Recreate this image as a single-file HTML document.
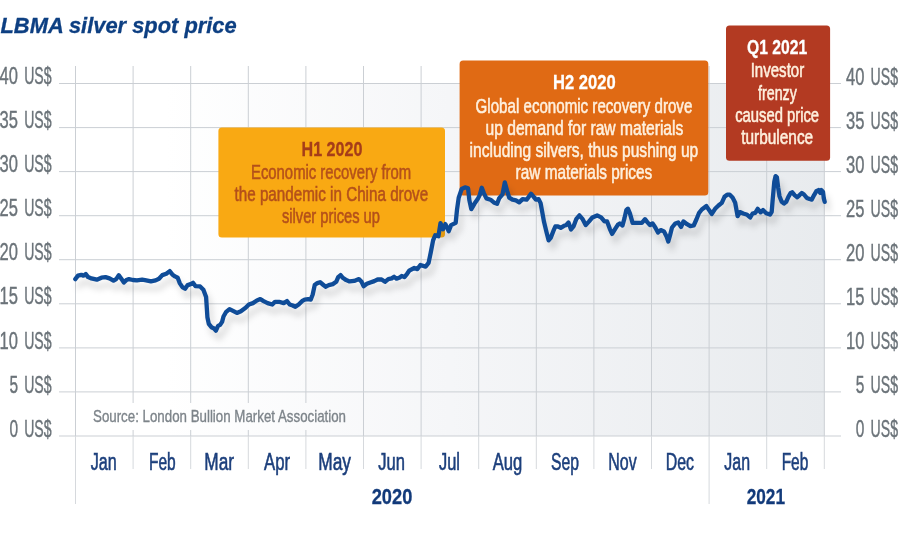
<!DOCTYPE html>
<html lang="en"><head><meta charset="utf-8"><title>LBMA silver spot price</title>
<style>html,body{margin:0;padding:0;background:#fff}body{width:900px;height:538px;overflow:hidden}svg{display:block}text{font-family:"Liberation Sans",sans-serif}</style></head><body>
<svg width="900" height="538" viewBox="0 0 900 538">
<defs><linearGradient id="bg" gradientUnits="userSpaceOnUse" x1="75.5" y1="0" x2="824.3" y2="0"><stop offset="0" stop-color="#ffffff"/><stop offset="0.12" stop-color="#ffffff"/><stop offset="0.5" stop-color="#f5f6f8"/><stop offset="1" stop-color="#e8ebee"/></linearGradient>
<filter id="sh" x="-5%" y="-30%" width="110%" height="170%"><feGaussianBlur stdDeviation="3"/></filter>
</defs>
<rect width="900" height="538" fill="#fff"/>
<rect x="75.5" y="83.5" width="748.8" height="352.5" fill="url(#bg)"/>
<g stroke="#cbcfd4" stroke-width="1" fill="none">
<line x1="59" y1="83.5" x2="841" y2="83.5"/>
<line x1="59" y1="127.6" x2="841" y2="127.6"/>
<line x1="59" y1="171.6" x2="841" y2="171.6"/>
<line x1="59" y1="215.7" x2="841" y2="215.7"/>
<line x1="59" y1="259.7" x2="841" y2="259.7"/>
<line x1="59" y1="303.8" x2="841" y2="303.8"/>
<line x1="59" y1="347.9" x2="841" y2="347.9"/>
<line x1="59" y1="391.9" x2="841" y2="391.9"/>
<line x1="59" y1="436.0" x2="841" y2="436.0"/>
<line x1="75.5" y1="66" x2="75.5" y2="436.0"/>
<line x1="133.1" y1="66" x2="133.1" y2="436.0"/>
<line x1="190.7" y1="66" x2="190.7" y2="436.0"/>
<line x1="248.3" y1="66" x2="248.3" y2="436.0"/>
<line x1="305.9" y1="66" x2="305.9" y2="436.0"/>
<line x1="363.5" y1="66" x2="363.5" y2="436.0"/>
<line x1="421.1" y1="66" x2="421.1" y2="436.0"/>
<line x1="478.7" y1="66" x2="478.7" y2="436.0"/>
<line x1="536.3" y1="66" x2="536.3" y2="436.0"/>
<line x1="593.9" y1="66" x2="593.9" y2="436.0"/>
<line x1="651.5" y1="66" x2="651.5" y2="436.0"/>
<line x1="709.1" y1="66" x2="709.1" y2="436.0"/>
<line x1="766.7" y1="66" x2="766.7" y2="436.0"/>
<line x1="824.3" y1="66" x2="824.3" y2="436.0"/>
</g><g stroke="#d6d9dd" stroke-width="1" fill="none">
<line x1="75.5" y1="436.0" x2="75.5" y2="504"/>
<line x1="133.1" y1="436.0" x2="133.1" y2="469"/>
<line x1="190.7" y1="436.0" x2="190.7" y2="469"/>
<line x1="248.3" y1="436.0" x2="248.3" y2="469"/>
<line x1="305.9" y1="436.0" x2="305.9" y2="469"/>
<line x1="363.5" y1="436.0" x2="363.5" y2="469"/>
<line x1="421.1" y1="436.0" x2="421.1" y2="469"/>
<line x1="478.7" y1="436.0" x2="478.7" y2="469"/>
<line x1="536.3" y1="436.0" x2="536.3" y2="469"/>
<line x1="593.9" y1="436.0" x2="593.9" y2="469"/>
<line x1="651.5" y1="436.0" x2="651.5" y2="469"/>
<line x1="709.1" y1="436.0" x2="709.1" y2="504"/>
<line x1="766.7" y1="436.0" x2="766.7" y2="469"/>
<line x1="824.3" y1="436.0" x2="824.3" y2="469"/>
</g>
<rect x="88" y="403" width="263" height="27" fill="url(#bg)"/>
<text x="0.5" y="33.3" font-size="22" fill="#0d3f82" stroke="#0d3f82" stroke-width="0.3" font-weight="bold" font-style="italic" textLength="236.2" lengthAdjust="spacingAndGlyphs">LBMA silver spot price</text>
<text y="84.1" font-size="23" fill="#6b7379" stroke="#6b7379" stroke-width="0.4"><tspan x="-0.4" textLength="18.4" lengthAdjust="spacingAndGlyphs">40</tspan> <tspan x="24.2" textLength="27.4" lengthAdjust="spacingAndGlyphs">US$</tspan></text>
<text y="84.7" font-size="23" fill="#6b7379" stroke="#6b7379" stroke-width="0.4"><tspan x="846.0" textLength="18.4" lengthAdjust="spacingAndGlyphs">40</tspan> <tspan x="870.6" textLength="27.4" lengthAdjust="spacingAndGlyphs">US$</tspan></text>
<text y="128.2" font-size="23" fill="#6b7379" stroke="#6b7379" stroke-width="0.4"><tspan x="-0.4" textLength="18.4" lengthAdjust="spacingAndGlyphs">35</tspan> <tspan x="24.2" textLength="27.4" lengthAdjust="spacingAndGlyphs">US$</tspan></text>
<text y="128.8" font-size="23" fill="#6b7379" stroke="#6b7379" stroke-width="0.4"><tspan x="846.0" textLength="18.4" lengthAdjust="spacingAndGlyphs">35</tspan> <tspan x="870.6" textLength="27.4" lengthAdjust="spacingAndGlyphs">US$</tspan></text>
<text y="172.2" font-size="23" fill="#6b7379" stroke="#6b7379" stroke-width="0.4"><tspan x="-0.4" textLength="18.4" lengthAdjust="spacingAndGlyphs">30</tspan> <tspan x="24.2" textLength="27.4" lengthAdjust="spacingAndGlyphs">US$</tspan></text>
<text y="172.8" font-size="23" fill="#6b7379" stroke="#6b7379" stroke-width="0.4"><tspan x="846.0" textLength="18.4" lengthAdjust="spacingAndGlyphs">30</tspan> <tspan x="870.6" textLength="27.4" lengthAdjust="spacingAndGlyphs">US$</tspan></text>
<text y="216.3" font-size="23" fill="#6b7379" stroke="#6b7379" stroke-width="0.4"><tspan x="-0.4" textLength="18.4" lengthAdjust="spacingAndGlyphs">25</tspan> <tspan x="24.2" textLength="27.4" lengthAdjust="spacingAndGlyphs">US$</tspan></text>
<text y="216.9" font-size="23" fill="#6b7379" stroke="#6b7379" stroke-width="0.4"><tspan x="846.0" textLength="18.4" lengthAdjust="spacingAndGlyphs">25</tspan> <tspan x="870.6" textLength="27.4" lengthAdjust="spacingAndGlyphs">US$</tspan></text>
<text y="260.3" font-size="23" fill="#6b7379" stroke="#6b7379" stroke-width="0.4"><tspan x="-0.4" textLength="18.4" lengthAdjust="spacingAndGlyphs">20</tspan> <tspan x="24.2" textLength="27.4" lengthAdjust="spacingAndGlyphs">US$</tspan></text>
<text y="260.9" font-size="23" fill="#6b7379" stroke="#6b7379" stroke-width="0.4"><tspan x="846.0" textLength="18.4" lengthAdjust="spacingAndGlyphs">20</tspan> <tspan x="870.6" textLength="27.4" lengthAdjust="spacingAndGlyphs">US$</tspan></text>
<text y="304.4" font-size="23" fill="#6b7379" stroke="#6b7379" stroke-width="0.4"><tspan x="-0.4" textLength="18.4" lengthAdjust="spacingAndGlyphs">15</tspan> <tspan x="24.2" textLength="27.4" lengthAdjust="spacingAndGlyphs">US$</tspan></text>
<text y="305.0" font-size="23" fill="#6b7379" stroke="#6b7379" stroke-width="0.4"><tspan x="846.0" textLength="18.4" lengthAdjust="spacingAndGlyphs">15</tspan> <tspan x="870.6" textLength="27.4" lengthAdjust="spacingAndGlyphs">US$</tspan></text>
<text y="348.5" font-size="23" fill="#6b7379" stroke="#6b7379" stroke-width="0.4"><tspan x="-0.4" textLength="18.4" lengthAdjust="spacingAndGlyphs">10</tspan> <tspan x="24.2" textLength="27.4" lengthAdjust="spacingAndGlyphs">US$</tspan></text>
<text y="349.1" font-size="23" fill="#6b7379" stroke="#6b7379" stroke-width="0.4"><tspan x="846.0" textLength="18.4" lengthAdjust="spacingAndGlyphs">10</tspan> <tspan x="870.6" textLength="27.4" lengthAdjust="spacingAndGlyphs">US$</tspan></text>
<text y="392.5" font-size="23" fill="#6b7379" stroke="#6b7379" stroke-width="0.4"><tspan x="9.4" textLength="8.6" lengthAdjust="spacingAndGlyphs">5</tspan> <tspan x="24.2" textLength="27.4" lengthAdjust="spacingAndGlyphs">US$</tspan></text>
<text y="393.1" font-size="23" fill="#6b7379" stroke="#6b7379" stroke-width="0.4"><tspan x="855.8" textLength="8.6" lengthAdjust="spacingAndGlyphs">5</tspan> <tspan x="870.6" textLength="27.4" lengthAdjust="spacingAndGlyphs">US$</tspan></text>
<text y="436.6" font-size="23" fill="#6b7379" stroke="#6b7379" stroke-width="0.4"><tspan x="9.4" textLength="8.6" lengthAdjust="spacingAndGlyphs">0</tspan> <tspan x="24.2" textLength="27.4" lengthAdjust="spacingAndGlyphs">US$</tspan></text>
<text y="437.2" font-size="23" fill="#6b7379" stroke="#6b7379" stroke-width="0.4"><tspan x="855.8" textLength="8.6" lengthAdjust="spacingAndGlyphs">0</tspan> <tspan x="870.6" textLength="27.4" lengthAdjust="spacingAndGlyphs">US$</tspan></text>
<text x="93.0" y="421.5" font-size="16.6" fill="#7d848a" stroke="#7d848a" stroke-width="0.35" textLength="253.0" lengthAdjust="spacingAndGlyphs">Source: London Bullion Market Association</text>
<text x="90.7" y="469.8" font-size="23" fill="#1c3f7c" stroke="#1c3f7c" stroke-width="0.58" textLength="26.0" lengthAdjust="spacingAndGlyphs">Jan</text>
<text x="149.0" y="469.8" font-size="23" fill="#1c3f7c" stroke="#1c3f7c" stroke-width="0.58" textLength="26.7" lengthAdjust="spacingAndGlyphs">Feb</text>
<text x="204.3" y="469.8" font-size="23" fill="#1c3f7c" stroke="#1c3f7c" stroke-width="0.58" textLength="29.7" lengthAdjust="spacingAndGlyphs">Mar</text>
<text x="264.0" y="469.8" font-size="23" fill="#1c3f7c" stroke="#1c3f7c" stroke-width="0.58" textLength="26.0" lengthAdjust="spacingAndGlyphs">Apr</text>
<text x="318.3" y="469.8" font-size="23" fill="#1c3f7c" stroke="#1c3f7c" stroke-width="0.58" textLength="32.7" lengthAdjust="spacingAndGlyphs">May</text>
<text x="378.3" y="469.8" font-size="23" fill="#1c3f7c" stroke="#1c3f7c" stroke-width="0.58" textLength="26.7" lengthAdjust="spacingAndGlyphs">Jun</text>
<text x="439.0" y="469.8" font-size="23" fill="#1c3f7c" stroke="#1c3f7c" stroke-width="0.58" textLength="21.0" lengthAdjust="spacingAndGlyphs">Jul</text>
<text x="492.7" y="469.8" font-size="23" fill="#1c3f7c" stroke="#1c3f7c" stroke-width="0.58" textLength="29.6" lengthAdjust="spacingAndGlyphs">Aug</text>
<text x="551.0" y="469.8" font-size="23" fill="#1c3f7c" stroke="#1c3f7c" stroke-width="0.58" textLength="28.0" lengthAdjust="spacingAndGlyphs">Sep</text>
<text x="608.3" y="469.8" font-size="23" fill="#1c3f7c" stroke="#1c3f7c" stroke-width="0.58" textLength="28.4" lengthAdjust="spacingAndGlyphs">Nov</text>
<text x="665.7" y="469.8" font-size="23" fill="#1c3f7c" stroke="#1c3f7c" stroke-width="0.58" textLength="28.3" lengthAdjust="spacingAndGlyphs">Dec</text>
<text x="724.3" y="469.8" font-size="23" fill="#1c3f7c" stroke="#1c3f7c" stroke-width="0.58" textLength="25.7" lengthAdjust="spacingAndGlyphs">Jan</text>
<text x="781.7" y="469.8" font-size="23" fill="#1c3f7c" stroke="#1c3f7c" stroke-width="0.58" textLength="26.6" lengthAdjust="spacingAndGlyphs">Feb</text>
<text x="371.7" y="503.5" font-size="22.6" fill="#123a7a" stroke="#123a7a" stroke-width="0.3" font-weight="bold" textLength="40.6" lengthAdjust="spacingAndGlyphs">2020</text>
<text x="746.7" y="503.5" font-size="22.6" fill="#123a7a" stroke="#123a7a" stroke-width="0.3" font-weight="bold" textLength="38.3" lengthAdjust="spacingAndGlyphs">2021</text>
<!--LINE-->
<rect x="218.4" y="127.5" width="226.6" height="110.1" rx="3.5" fill="#f9a913"/>
<rect x="459.6" y="60.5" width="248.7" height="134.9" rx="3.5" fill="#e06a14"/>
<rect x="726" y="25.4" width="104.1" height="135.4" rx="3.5" fill="#b33a22"/>
<text x="301.5" y="156.4" font-size="20.2" fill="#a53d1a" stroke="#a53d1a" stroke-width="0.3" font-weight="bold" textLength="60.9" lengthAdjust="spacingAndGlyphs">H1 2020</text>
<text x="251.0" y="178.8" font-size="20.2" fill="#b4501a" stroke="#b4501a" stroke-width="0.58" textLength="160.2" lengthAdjust="spacingAndGlyphs">Economic recovery from</text>
<text x="234.5" y="201.1" font-size="20.2" fill="#b4501a" stroke="#b4501a" stroke-width="0.58" textLength="193.7" lengthAdjust="spacingAndGlyphs">the pandemic in China drove</text>
<text x="281.9" y="223.3" font-size="20.2" fill="#b4501a" stroke="#b4501a" stroke-width="0.58" textLength="98.1" lengthAdjust="spacingAndGlyphs">silver prices up</text>
<text x="553.0" y="89.3" font-size="20.2" fill="#ffffff" stroke="#ffffff" stroke-width="0.3" font-weight="bold" textLength="62.6" lengthAdjust="spacingAndGlyphs">H2 2020</text>
<text x="475.6" y="112.7" font-size="20.2" fill="#fef0de" stroke="#fef0de" stroke-width="0.58" textLength="216.7" lengthAdjust="spacingAndGlyphs">Global economic recovery drove</text>
<text x="485.5" y="134.9" font-size="20.2" fill="#fef0de" stroke="#fef0de" stroke-width="0.58" textLength="197.8" lengthAdjust="spacingAndGlyphs">up demand for raw materials</text>
<text x="469.6" y="157.2" font-size="20.2" fill="#fef0de" stroke="#fef0de" stroke-width="0.58" textLength="228.7" lengthAdjust="spacingAndGlyphs">including silvers, thus pushing up</text>
<text x="515.6" y="179.4" font-size="20.2" fill="#fef0de" stroke="#fef0de" stroke-width="0.58" textLength="136.7" lengthAdjust="spacingAndGlyphs">raw materials prices</text>
<text x="747.1" y="54.1" font-size="20.2" fill="#ffffff" stroke="#ffffff" stroke-width="0.3" font-weight="bold" textLength="60.1" lengthAdjust="spacingAndGlyphs">Q1 2021</text>
<text x="750.7" y="77.3" font-size="20.2" fill="#fef0de" stroke="#fef0de" stroke-width="0.58" textLength="53.5" lengthAdjust="spacingAndGlyphs">Investor</text>
<text x="758.1" y="99.6" font-size="20.2" fill="#fef0de" stroke="#fef0de" stroke-width="0.58" textLength="38.7" lengthAdjust="spacingAndGlyphs">frenzy</text>
<text x="735.2" y="121.9" font-size="20.2" fill="#fef0de" stroke="#fef0de" stroke-width="0.58" textLength="83.9" lengthAdjust="spacingAndGlyphs">caused price</text>
<text x="741.2" y="143.9" font-size="20.2" fill="#fef0de" stroke="#fef0de" stroke-width="0.58" textLength="72.0" lengthAdjust="spacingAndGlyphs">turbulence</text>
<path d="M75.3 279.1 L78.0 275.7 L81.4 274.8 L83.4 275.7 L85.8 274.1 L88.1 277.1 L91.4 278.4 L96.8 279.7 L101.4 277.7 L105.5 277.1 L109.5 278.4 L113.5 280.7 L116.2 279.1 L118.8 275.3 L121.5 279.1 L123.9 282.4 L126.9 279.7 L128.9 279.1 L132.9 280.0 L136.9 280.4 L142.2 279.7 L146.3 280.4 L150.9 281.4 L155.6 280.4 L159.0 278.8 L162.3 275.1 L166.3 273.7 L169.7 271.1 L172.3 274.4 L175.0 276.4 L177.7 277.7 L179.7 283.1 L182.4 287.1 L185.1 288.8 L187.7 285.1 L190.7 284.1 L193.0 282.8 L195.4 286.1 L200.1 286.4 L203.4 289.7 L206.1 297.1 L206.8 307.8 L207.4 317.2 L208.8 323.9 L211.4 327.2 L214.1 328.5 L215.9 330.6 L218.1 325.9 L220.1 324.9 L222.1 321.9 L223.5 316.5 L226.2 311.8 L229.5 309.1 L233.5 311.2 L236.9 312.9 L240.9 311.2 L245.6 307.8 L248.9 304.5 L252.9 303.1 L256.9 300.5 L260.3 299.1 L263.6 301.1 L267.6 303.1 L272.3 304.5 L275.0 301.8 L279.0 301.8 L283.7 303.1 L287.0 301.1 L289.7 304.5 L292.7 305.5 L295.4 306.8 L298.7 304.5 L302.0 301.2 L304.7 299.6 L308.1 299.2 L310.7 299.6 L312.7 294.5 L314.7 285.1 L317.4 283.1 L320.1 282.2 L322.8 284.5 L325.5 286.7 L328.8 285.1 L332.8 284.1 L336.2 281.8 L338.2 277.1 L340.6 275.1 L342.8 277.8 L346.2 280.1 L349.5 281.4 L354.2 280.9 L358.9 279.1 L361.6 281.8 L363.6 286.2 L366.9 283.8 L370.3 282.5 L374.3 281.1 L377.6 279.5 L381.6 279.5 L385.0 281.8 L388.3 279.1 L391.7 278.4 L394.1 276.8 L396.4 278.7 L399.7 277.4 L401.7 276.0 L404.4 277.1 L407.1 273.8 L409.2 270.7 L414.3 268.0 L417.4 269.1 L420.4 265.0 L425.6 266.6 L428.6 262.9 L430.7 252.7 L433.1 240.4 L435.2 235.3 L438.4 236.3 L440.5 223.1 L442.9 229.2 L445.4 224.1 L448.7 231.2 L451.1 225.1 L455.7 222.8 L457.0 209.8 L458.7 197.7 L461.7 189.0 L465.0 187.3 L468.1 188.4 L469.4 200.4 L471.3 209.1 L474.4 203.8 L477.7 199.1 L479.7 195.1 L481.8 187.7 L483.8 193.1 L486.4 198.4 L490.5 199.7 L493.8 202.4 L497.1 203.8 L499.1 198.4 L502.5 194.4 L504.8 182.4 L507.2 191.1 L509.2 197.7 L512.5 199.7 L515.9 200.4 L519.2 202.4 L522.6 199.1 L526.6 199.7 L528.6 197.1 L531.0 193.7 L533.3 196.4 L535.9 199.7 L538.6 199.1 L540.6 203.1 L542.2 211.8 L544.0 221.8 L546.6 232.5 L548.6 240.3 L550.7 237.9 L553.3 231.2 L555.3 226.5 L558.0 226.5 L560.7 227.8 L564.0 225.8 L566.0 225.2 L568.5 222.6 L571.0 229.5 L573.7 226.1 L576.4 218.8 L579.4 215.4 L582.4 218.8 L585.7 225.1 L589.1 221.4 L592.4 217.4 L597.1 215.4 L601.1 217.4 L604.5 221.4 L607.1 221.4 L609.8 228.8 L612.1 233.9 L615.2 228.8 L617.8 224.8 L619.8 223.4 L622.5 225.5 L624.5 218.1 L626.3 210.1 L627.9 208.7 L629.9 213.4 L632.6 222.8 L637.2 222.8 L641.9 222.8 L645.0 219.2 L647.3 222.1 L650.0 225.1 L652.6 223.4 L655.3 227.5 L658.0 232.5 L660.7 230.1 L664.0 231.5 L666.7 236.8 L668.3 241.5 L670.0 235.5 L672.0 227.5 L675.4 223.4 L678.2 222.4 L681.0 227.0 L683.5 221.4 L687.0 224.2 L690.4 226.2 L693.7 225.5 L696.4 219.5 L699.1 212.8 L701.8 209.5 L706.4 206.1 L709.1 210.1 L711.8 213.9 L715.1 208.8 L718.5 205.5 L721.8 202.8 L724.5 196.8 L727.2 194.7 L729.8 194.7 L732.5 197.4 L735.2 202.8 L736.5 210.1 L737.6 216.2 L739.9 212.1 L743.2 213.5 L747.2 214.8 L750.2 217.5 L752.6 213.5 L755.3 212.8 L757.7 208.8 L760.6 212.3 L763.0 210.1 L766.2 213.2 L770.0 214.6 L771.7 211.8 L772.8 198.4 L774.3 181.7 L775.6 176.1 L776.9 177.3 L778.1 187.3 L779.5 196.2 L781.7 201.8 L784.0 203.5 L786.2 201.8 L788.4 196.8 L790.7 192.9 L792.3 192.3 L794.6 195.1 L797.3 197.3 L799.6 195.1 L801.8 192.9 L804.0 194.5 L806.8 197.9 L809.6 199.0 L811.8 199.6 L814.1 195.1 L816.3 191.2 L818.5 190.1 L820.2 192.9 L821.5 190.1 L823.0 191.8 L823.8 198.4 L824.7 201.8" fill="none" stroke="#000" stroke-opacity="0.14" stroke-width="4.5" stroke-linejoin="round" stroke-linecap="round" transform="translate(3.5,7.5)" filter="url(#sh)"/>
<path d="M75.3 279.1 L78.0 275.7 L81.4 274.8 L83.4 275.7 L85.8 274.1 L88.1 277.1 L91.4 278.4 L96.8 279.7 L101.4 277.7 L105.5 277.1 L109.5 278.4 L113.5 280.7 L116.2 279.1 L118.8 275.3 L121.5 279.1 L123.9 282.4 L126.9 279.7 L128.9 279.1 L132.9 280.0 L136.9 280.4 L142.2 279.7 L146.3 280.4 L150.9 281.4 L155.6 280.4 L159.0 278.8 L162.3 275.1 L166.3 273.7 L169.7 271.1 L172.3 274.4 L175.0 276.4 L177.7 277.7 L179.7 283.1 L182.4 287.1 L185.1 288.8 L187.7 285.1 L190.7 284.1 L193.0 282.8 L195.4 286.1 L200.1 286.4 L203.4 289.7 L206.1 297.1 L206.8 307.8 L207.4 317.2 L208.8 323.9 L211.4 327.2 L214.1 328.5 L215.9 330.6 L218.1 325.9 L220.1 324.9 L222.1 321.9 L223.5 316.5 L226.2 311.8 L229.5 309.1 L233.5 311.2 L236.9 312.9 L240.9 311.2 L245.6 307.8 L248.9 304.5 L252.9 303.1 L256.9 300.5 L260.3 299.1 L263.6 301.1 L267.6 303.1 L272.3 304.5 L275.0 301.8 L279.0 301.8 L283.7 303.1 L287.0 301.1 L289.7 304.5 L292.7 305.5 L295.4 306.8 L298.7 304.5 L302.0 301.2 L304.7 299.6 L308.1 299.2 L310.7 299.6 L312.7 294.5 L314.7 285.1 L317.4 283.1 L320.1 282.2 L322.8 284.5 L325.5 286.7 L328.8 285.1 L332.8 284.1 L336.2 281.8 L338.2 277.1 L340.6 275.1 L342.8 277.8 L346.2 280.1 L349.5 281.4 L354.2 280.9 L358.9 279.1 L361.6 281.8 L363.6 286.2 L366.9 283.8 L370.3 282.5 L374.3 281.1 L377.6 279.5 L381.6 279.5 L385.0 281.8 L388.3 279.1 L391.7 278.4 L394.1 276.8 L396.4 278.7 L399.7 277.4 L401.7 276.0 L404.4 277.1 L407.1 273.8 L409.2 270.7 L414.3 268.0 L417.4 269.1 L420.4 265.0 L425.6 266.6 L428.6 262.9 L430.7 252.7 L433.1 240.4 L435.2 235.3 L438.4 236.3 L440.5 223.1 L442.9 229.2 L445.4 224.1 L448.7 231.2 L451.1 225.1 L455.7 222.8 L457.0 209.8 L458.7 197.7 L461.7 189.0 L465.0 187.3 L468.1 188.4 L469.4 200.4 L471.3 209.1 L474.4 203.8 L477.7 199.1 L479.7 195.1 L481.8 187.7 L483.8 193.1 L486.4 198.4 L490.5 199.7 L493.8 202.4 L497.1 203.8 L499.1 198.4 L502.5 194.4 L504.8 182.4 L507.2 191.1 L509.2 197.7 L512.5 199.7 L515.9 200.4 L519.2 202.4 L522.6 199.1 L526.6 199.7 L528.6 197.1 L531.0 193.7 L533.3 196.4 L535.9 199.7 L538.6 199.1 L540.6 203.1 L542.2 211.8 L544.0 221.8 L546.6 232.5 L548.6 240.3 L550.7 237.9 L553.3 231.2 L555.3 226.5 L558.0 226.5 L560.7 227.8 L564.0 225.8 L566.0 225.2 L568.5 222.6 L571.0 229.5 L573.7 226.1 L576.4 218.8 L579.4 215.4 L582.4 218.8 L585.7 225.1 L589.1 221.4 L592.4 217.4 L597.1 215.4 L601.1 217.4 L604.5 221.4 L607.1 221.4 L609.8 228.8 L612.1 233.9 L615.2 228.8 L617.8 224.8 L619.8 223.4 L622.5 225.5 L624.5 218.1 L626.3 210.1 L627.9 208.7 L629.9 213.4 L632.6 222.8 L637.2 222.8 L641.9 222.8 L645.0 219.2 L647.3 222.1 L650.0 225.1 L652.6 223.4 L655.3 227.5 L658.0 232.5 L660.7 230.1 L664.0 231.5 L666.7 236.8 L668.3 241.5 L670.0 235.5 L672.0 227.5 L675.4 223.4 L678.2 222.4 L681.0 227.0 L683.5 221.4 L687.0 224.2 L690.4 226.2 L693.7 225.5 L696.4 219.5 L699.1 212.8 L701.8 209.5 L706.4 206.1 L709.1 210.1 L711.8 213.9 L715.1 208.8 L718.5 205.5 L721.8 202.8 L724.5 196.8 L727.2 194.7 L729.8 194.7 L732.5 197.4 L735.2 202.8 L736.5 210.1 L737.6 216.2 L739.9 212.1 L743.2 213.5 L747.2 214.8 L750.2 217.5 L752.6 213.5 L755.3 212.8 L757.7 208.8 L760.6 212.3 L763.0 210.1 L766.2 213.2 L770.0 214.6 L771.7 211.8 L772.8 198.4 L774.3 181.7 L775.6 176.1 L776.9 177.3 L778.1 187.3 L779.5 196.2 L781.7 201.8 L784.0 203.5 L786.2 201.8 L788.4 196.8 L790.7 192.9 L792.3 192.3 L794.6 195.1 L797.3 197.3 L799.6 195.1 L801.8 192.9 L804.0 194.5 L806.8 197.9 L809.6 199.0 L811.8 199.6 L814.1 195.1 L816.3 191.2 L818.5 190.1 L820.2 192.9 L821.5 190.1 L823.0 191.8 L823.8 198.4 L824.7 201.8" fill="none" stroke="#0f4c98" stroke-width="4.3" stroke-linejoin="round" stroke-linecap="round"/>
</svg></body></html>
